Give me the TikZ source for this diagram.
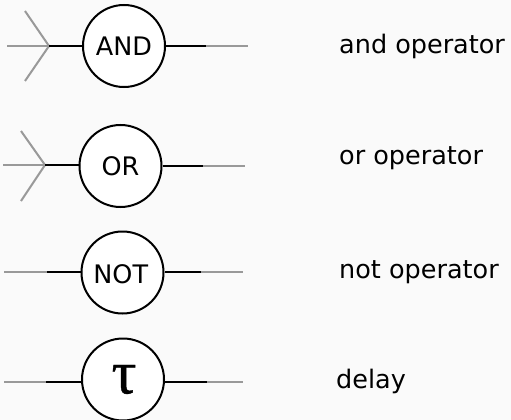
\documentclass[tikz,border=0pt]{standalone}
\usepackage{fontspec}
\setmainfont{DejaVu Sans}
\newfontfamily\taufont[FakeBold=0.6]{Liberation Serif}
\definecolor{bgc}{HTML}{FAFAFA}
\definecolor{wire}{HTML}{999999}
\tikzset{
  x=1pt,y=-1pt,
  gate/.style={circle,draw=black,fill=white,line width=2pt,minimum size=82pt,inner sep=0pt,font=\fontsize{25.5}{30}\selectfont},
  label/.style={anchor=base west,inner sep=0pt,font=\fontsize{25.5}{30}\selectfont},
  live/.style={draw=black,line width=2pt},
  dead/.style={draw=wire,line width=2pt}
}
\begin{document}
\begin{tikzpicture}
\useasboundingbox[fill=bgc] (0,0) rectangle (511,420);
% AND
\node[gate] (and) at (124,46) {AND};
\coordinate (a0) at (49,46);
\coordinate (a1) at (7,46);
\coordinate (a2) at (25,11);
\coordinate (a3) at (25,81);
\coordinate (a4) at (206,46);
\coordinate (a5) at (248,46);
\draw[dead] (a1) -- (a0);
\draw[dead] (a2) -- (a0);
\draw[dead] (a3) -- (a0);
\draw[live] (a0) -- (and);
\draw[live] (and) -- (a4);
\draw[dead] (a4) -- (a5);
% OR
\node[gate] (or) at (120.5,166) {OR};
\coordinate (o0) at (45,165);
\coordinate (o1) at (3,165);
\coordinate (o2) at (21,131);
\coordinate (o3) at (21,201);
\coordinate (o4) at (203,166);
\coordinate (o5) at (245,166);
\draw[dead] (o1) -- (o0);
\draw[dead] (o2) -- (o0);
\draw[dead] (o3) -- (o0);
\draw[live] (o0) -- (or.west |- o0);
\draw[live] (or.east |- o4) -- (o4);
\draw[dead] (o4) -- (o5);
% NOT
\node[gate] (not) at (122.5,272.5) {\raisebox{-11pt}[0pt][0pt]{\hspace*{-3.5pt}NOT}};
\coordinate (n0) at (47,272);
\coordinate (n1) at (4,272);
\coordinate (n4) at (201,272);
\coordinate (n5) at (243,272);
\draw[dead] (n1) -- (n0);
\draw[live] (n0) -- (not.west |- n0);
\draw[live] (not.east |- n4) -- (n4);
\draw[dead] (n4) -- (n5);
% delay
\node[gate] (del) at (123,379.5) {\hspace*{2pt}{\fontsize{62}{62}\taufont τ}};
\coordinate (d0) at (46,382);
\coordinate (d1) at (4,382);
\coordinate (d4) at (207,382);
\coordinate (d5) at (243,382);
\draw[dead] (d1) -- (d0);
\draw[live] (d0) -- (del.west |- d0);
\draw[live] (del.east |- d4) -- (d4);
\draw[dead] (d4) -- (d5);
% captions
\node[label] (t1) at (339,54) {and operator};
\node[label] (t2) at (339,164) {or operator};
\node[label] (t3) at (339,278) {not operator};
\node[label] (t4) at (336,388.5) {delay};
\end{tikzpicture}
\end{document}
